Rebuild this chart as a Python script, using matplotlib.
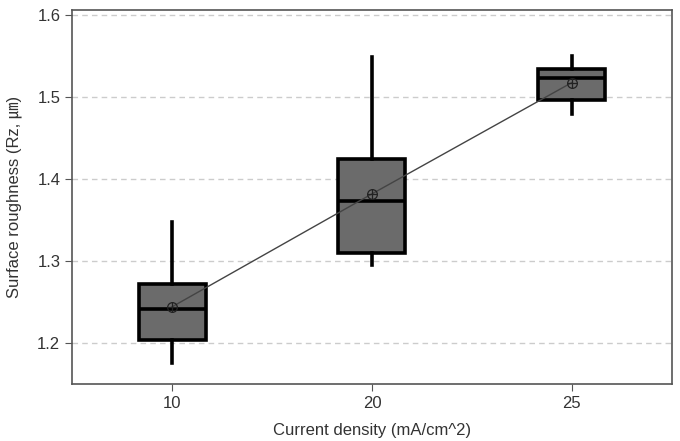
import matplotlib.pyplot as plt
import numpy as np

# Data
categories = ['10', '20', '25']
whis_lo = [1.175, 1.295, 1.480]
q1 = [1.203, 1.310, 1.497]
medians = [1.241, 1.373, 1.524]
q3 = [1.272, 1.424, 1.535]
whis_hi = [1.348, 1.549, 1.550]
means = [1.244, 1.382, 1.518]

plt.rcParams['font.family'] = ['Liberation Sans', 'Noto Sans CJK KR', 'DejaVu Sans']

fig = plt.figure(figsize=(6.8, 4.41), dpi=100)
ax = fig.add_axes([0.106, 0.129, 0.882, 0.849])

positions = np.arange(1, len(categories) + 1)
stats = []
for i in range(len(categories)):
    stats.append({'whislo': whis_lo[i], 'q1': q1[i], 'med': medians[i],
                  'q3': q3[i], 'whishi': whis_hi[i], 'fliers': [], 'label': categories[i]})

ax.bxp(stats, positions=positions, widths=0.335, patch_artist=True, showcaps=False,
       showfliers=False,
       boxprops=dict(facecolor='#6b6b6b', edgecolor='black', linewidth=2.6),
       medianprops=dict(color='black', linewidth=2.6),
       whiskerprops=dict(color='black', linewidth=2.6), zorder=3)

# mean line and markers
ax.plot(positions, means, color='#444444', linewidth=1, zorder=4)
ax.plot(positions, means, linestyle='none', marker='o', markersize=7,
        markerfacecolor='none', markeredgecolor='#222222', markeredgewidth=0.9, zorder=5)
ax.plot(positions, means, linestyle='none', marker='+', markersize=7,
        markeredgecolor='#222222', markeredgewidth=0.9, zorder=5)

ax.set_xlim(0.5, 3.5)
ax.set_ylim(1.1496, 1.607)
ax.set_yticks([1.2, 1.3, 1.4, 1.5, 1.6])
ax.set_xticks(positions)
ax.set_xticklabels(categories)
ax.yaxis.grid(True, linestyle=(0, (4, 3)), color='#cccccc', linewidth=1)
ax.set_axisbelow(True)

for s in ax.spines.values():
    s.set_color('#555555')
    s.set_linewidth(1.2)
ax.tick_params(axis='both', direction='out', length=5, color='#555555',
               labelsize=12, labelcolor='#333333')

ax.set_xlabel('Current density (mA/cm^2)', fontsize=12, color='#333333', labelpad=9)
ax.set_ylabel('Surface roughness (Rz, ㎛)', fontsize=12, color='#333333', labelpad=11)

fig.savefig('out.png', dpi=100)
